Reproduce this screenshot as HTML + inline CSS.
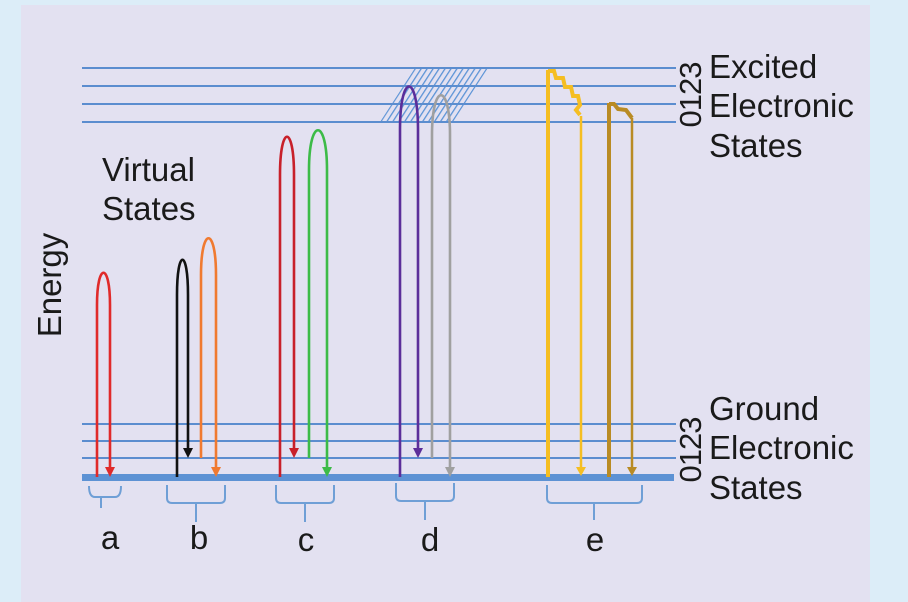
<!DOCTYPE html>
<html><head><style>html,body{margin:0;padding:0;background:#dcedf8;}svg{display:block}text{font-family:"Liberation Sans",sans-serif;fill:#1a1a1a}</style></head><body>
<svg width="908" height="602" viewBox="0 0 908 602" xmlns="http://www.w3.org/2000/svg">
<defs><pattern id="h" width="5" height="5" patternUnits="userSpaceOnUse" patternTransform="rotate(33)"><line x1="0" y1="0" x2="0" y2="5" stroke="#5b93d6" stroke-width="2.6"/></pattern></defs>
<rect x="0" y="0" width="908" height="602" fill="#dcedf8"/>
<rect x="21" y="5" width="849" height="597" fill="#e3e1f1"/>
<polygon points="415,68 488,68 453,122 380,122" fill="url(#h)"/>
<g stroke="#5b8dcf" stroke-width="2">
<line x1="82" y1="68" x2="676" y2="68"/><line x1="82" y1="86" x2="676" y2="86"/><line x1="82" y1="104" x2="676" y2="104"/><line x1="82" y1="122" x2="676" y2="122"/>
<line x1="82" y1="424" x2="676" y2="424"/><line x1="82" y1="441" x2="676" y2="441"/><line x1="82" y1="458" x2="676" y2="458"/>
</g>
<rect x="82" y="474" width="592" height="7" fill="#5d92d4"/>
<g fill="none" stroke-width="2.6">
<path d="M97 477 V305 C97 262 110 262 110 305 V470" stroke="#e02a2a"/>
<path d="M177 477 V295 C177 248 188 248 188 295 V452" stroke="#111"/>
<path d="M201 458 V275 C201 226 216 226 216 275 V470" stroke="#f07a30"/>
<path d="M280 477 V175 C280 124 294 124 294 175 V452" stroke="#c8202a"/>
<path d="M309 458 V170 C309 117 327 117 327 170 V470" stroke="#3dbb48"/>
<path d="M400 477 V130 C400 72 418 72 418 130 V452" stroke="#5b2e9a"/>
<path d="M432 458 V135 C432 82 450 82 450 135 V470" stroke="#a0a0a0"/>
</g>
<g fill="none" stroke="#f5be22" stroke-width="4"><path d="M548 477 V70"/><path d="M548 71 L554 71 L556 78 L563 78 L565 87 L571 87 L573 96 L578 96 L580 105 L576 110 L580 115"/><path d="M581 116 V470" stroke-width="2.5"/></g>
<g fill="none" stroke="#b98b24" stroke-width="4"><path d="M609 477 V103"/><path d="M609 104 L614 104 L618 109 L626 110 L632 118"/><path d="M632 118 V470" stroke-width="2.5"/></g>
<g>
<polygon points="105,467 115,467 110,477" fill="#e02a2a"/>
<polygon points="183,448 193,448 188,458" fill="#111"/>
<polygon points="211,467 221,467 216,477" fill="#f07a30"/>
<polygon points="289,448 299,448 294,458" fill="#c8202a"/>
<polygon points="322,467 332,467 327,477" fill="#3dbb48"/>
<polygon points="413,448 423,448 418,458" fill="#5b2e9a"/>
<polygon points="445,467 455,467 450,477" fill="#a0a0a0"/>
<polygon points="576,467 586,467 581,476" fill="#f5be22"/>
<polygon points="627,467 637,467 632,476" fill="#b98b24"/>
</g>
<g fill="none" stroke="#6f9fd6" stroke-width="2">
<path d="M89 486 Q89 497 95 497 H101 V508 M101 497 H115 Q121 497 121 486"/>
<path d="M167 485 V498 Q167 503 172 503 H196 V522 M196 503 H220 Q225 503 225 498 V485"/>
<path d="M276 485 V498 Q276 503 281 503 H305 V522 M305 503 H329 Q334 503 334 498 V485"/>
<path d="M396 483 V496 Q396 501 401 501 H425 V520 M425 501 H449 Q454 501 454 496 V483"/>
<path d="M547 485 V498 Q547 503 552 503 H594 V520 M594 503 H637 Q642 503 642 498 V485"/>
</g>
<g font-size="33">
<text x="110" y="549" text-anchor="middle">a</text>
<text x="199" y="549" text-anchor="middle">b</text>
<text x="306" y="551" text-anchor="middle">c</text>
<text x="430" y="551" text-anchor="middle">d</text>
<text x="595" y="551" text-anchor="middle">e</text>
<text x="102" y="181">Virtual</text>
<text x="102" y="220">States</text>
<text x="709" y="78">Excited</text>
<text x="709" y="117">Electronic</text>
<text x="709" y="157">States</text>
<text x="709" y="420">Ground</text>
<text x="709" y="459">Electronic</text>
<text x="709" y="499">States</text>
<text transform="translate(61,285) rotate(-90)" text-anchor="middle">Energy</text>
<text transform="translate(701,95) rotate(-90)" text-anchor="middle" font-size="31" letter-spacing="-1">0123</text>
<text transform="translate(701,450) rotate(-90)" text-anchor="middle" font-size="31" letter-spacing="-1">0123</text>
</g>
</svg>
</body></html>
